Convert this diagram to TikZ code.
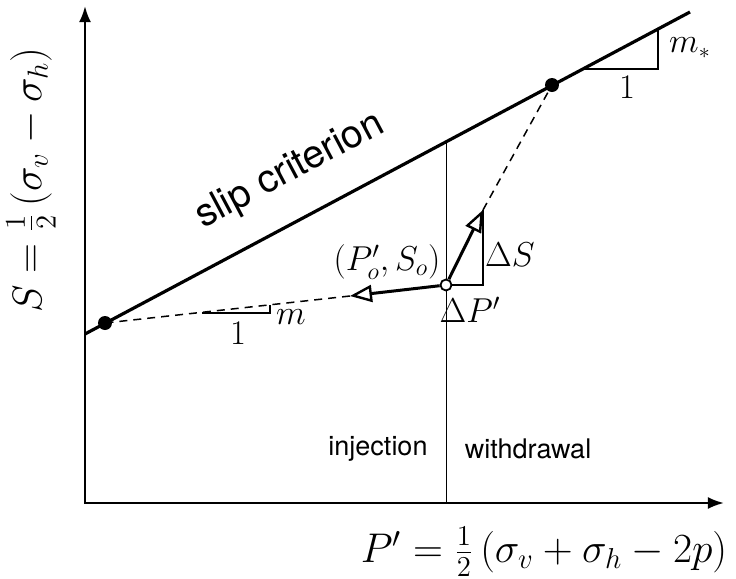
\documentclass[tikz,border=0pt]{standalone}
\usepackage{fontspec}
\setsansfont{TeX Gyre Heros}
\usetikzlibrary{arrows.meta}
\begin{document}
\begin{tikzpicture}[x=0.5pt,y=-0.5pt,
  axis/.style={line width=1.2pt},
  slipline/.style={line width=1.6pt},
  thinline/.style={line width=0.4pt},
  dashline/.style={line width=0.75pt,dash pattern=on 4pt off 3pt},
  arr/.style={line width=1.5pt,-{Triangle[open,length=11pt,width=8.5pt,line width=1.2pt]}},
  tri/.style={line width=0.9pt},
  dot/.style={circle,fill=black,inner sep=0pt,minimum size=7pt},
  ocirc/.style={circle,draw=black,fill=white,line width=0.9pt,inner sep=0pt,minimum size=5.5pt},
  lbl/.style={font=\fontsize{16}{18}\selectfont,inner sep=1pt},
  sflbl/.style={font=\sffamily\fontsize{13.5}{15}\selectfont,inner sep=1pt}]
\useasboundingbox (0,0) rectangle (736,579);
% axes
\coordinate (O) at (85,503);
\coordinate (ytop) at (85,6);
\coordinate (xend) at (724,503);
\draw[axis,{Latex[length=8pt,width=6pt]}-{Latex[length=8pt,width=6pt]}] (ytop) -- (O) -- (xend);
% slip line
\coordinate (sA) at (85,334);
\coordinate (sB) at (690,12);
\draw[slipline] (sA) -- (sB);
\node[sflbl,font=\sffamily\fontsize{19.5}{21}\selectfont,rotate=28] (slip) at (290,171) {slip criterion};
% vertical divider
\coordinate (vtop) at (446,142);
\coordinate (vbot) at (446,503);
\draw[thinline] (vtop) -- (vbot);
\node[sflbl] (inj) at (378,449) {injection};
\node[sflbl] (wd) at (528,449) {withdrawal};
% points
\coordinate (L) at (350,296);
\coordinate (R) at (483,210);
\coordinate (Rb) at (483,285);
\draw[tri] (446,285) -- (Rb) -- (R);
\node[ocirc] (C) at (446,285) {};
\draw[dashline] (L) -- (105,323);
\draw[dashline] (R) -- (552,85);
\draw[arr] (C) -- (L);
\draw[arr] (C) -- (R);
\node[dot] (A) at (105,323) {};
\node[dot] (B) at (552,85) {};
% slope triangles
\coordinate (t1a) at (202,313);
\coordinate (t1b) at (270,313);
\coordinate (t1c) at (270,305);
\draw[tri] (t1a) -- (t1b) -- (t1c);
\node[lbl] (one1) at (238,333) {$1$};
\node[lbl] (m1) at (291,317) {$m$};
\coordinate (t2a) at (582,69);
\coordinate (t2b) at (658,69);
\coordinate (t2c) at (658,29);
\draw[tri] (t2a) -- (t2b) -- (t2c);
\node[lbl] (one2) at (627,87) {$1$};
\node[lbl] (m2) at (690,48) {$m_*$};
% labels
\node[lbl,font=\fontsize{17}{19}\selectfont] (Po) at (387,262) {$(P'_o,S_o)$};
\node[lbl,font=\fontsize{17}{19}\selectfont] (dS) at (510,255) {$\Delta S$};
\node[lbl,font=\fontsize{17}{19}\selectfont] (dP) at (470,310) {$\Delta P'$};
\node[font=\fontsize{22}{24}\selectfont,rotate=90] (ylab) at (31,180) {$S=\frac{1}{2}\left(\sigma_v-\sigma_h\right)$};
\node[font=\fontsize{21.5}{24}\selectfont] (xlab) at (544,552) {$P'=\frac{1}{2}\left(\sigma_v+\sigma_h-2p\right)$};
\end{tikzpicture}
\end{document}
